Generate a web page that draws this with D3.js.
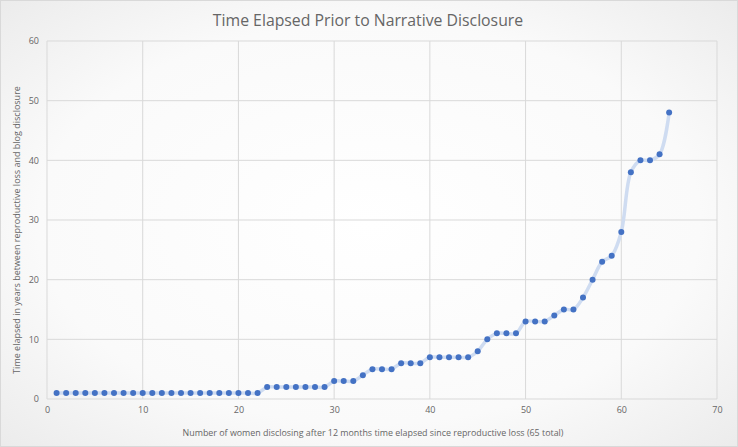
<!DOCTYPE html>
<html>
<head>
<meta charset="utf-8">
<script src="https://cdn.jsdelivr.net/npm/d3@7"></script>
<style>
  body { margin: 0; background: #fff; }
  svg text { font-family: "Open Sans", "Liberation Sans", sans-serif; }
</style>
</head>
<body>
<svg id="chart" width="738" height="447"></svg>
<script>
// women 1..65 and years elapsed before disclosure
const women = d3.range(1, 66);
const years = [
  1, 1, 1, 1, 1, 1, 1, 1, 1, 1, 1, 1, 1, 1, 1, 1, 1, 1, 1, 1, 1, 1,
  2, 2, 2, 2, 2, 2, 2,
  3, 3, 3,
  4, 5, 5, 5, 6, 6, 6,
  7, 7, 7, 7, 7,
  8, 10, 11, 11, 11, 13, 13, 13, 14, 15, 15,
  17, 20, 23, 24, 28, 38, 40, 40, 41, 48
];
const xTicks = [0, 10, 20, 30, 40, 50, 60, 70];
const yTicks = [0, 10, 20, 30, 40, 50, 60];

const titleText = 'Time Elapsed Prior to Narrative Disclosure';
const xLabel = 'Number of women disclosing after 12 months time elapsed since reproductive loss (65 total)';
const yLabel = 'Time elapsed in years between reproductive loss and blog disclosure';

const W = 738, H = 447;
const margin = { left: 47, right: 21, top: 41, bottom: 48 };
const textColor = '#666666';

const svg = d3.select('#chart');

// background gradient like the Excel chart area
const defs = svg.append('defs');
const grad = defs.append('radialGradient')
  .attr('id', 'bg')
  .attr('cx', '50%').attr('cy', '50%').attr('r', '75%');
grad.append('stop').attr('offset', '0%').attr('stop-color', '#ffffff');
grad.append('stop').attr('offset', '60%').attr('stop-color', '#fafafa');
grad.append('stop').attr('offset', '100%').attr('stop-color', '#e9e9e9');

svg.append('rect')
  .attr('x', 0.5).attr('y', 0.5)
  .attr('width', W - 1).attr('height', H - 1)
  .attr('fill', 'url(#bg)')
  .attr('stroke', '#d9d9d9');

const xScale = d3.scaleLinear()
  .domain([0, 70])
  .range([margin.left, W - margin.right]);

const yScale = d3.scaleLinear()
  .domain([0, 60])
  .range([H - margin.bottom, margin.top]);

// gridlines
svg.append('g')
  .selectAll('line')
  .data(yTicks)
  .enter()
  .append('line')
  .attr('x1', xScale(0)).attr('x2', xScale(70))
  .attr('y1', d => yScale(d)).attr('y2', d => yScale(d))
  .attr('stroke', '#d9d9d9')
  .attr('stroke-width', 1);

svg.append('g')
  .selectAll('line')
  .data(xTicks)
  .enter()
  .append('line')
  .attr('x1', d => xScale(d)).attr('x2', d => xScale(d))
  .attr('y1', yScale(0)).attr('y2', yScale(60))
  .attr('stroke', '#d9d9d9')
  .attr('stroke-width', 1);

// axes (labels only, Excel style)
const xAxis = d3.axisBottom(xScale).tickValues(xTicks).tickSize(0).tickPadding(8);
svg.append('g')
  .attr('transform', `translate(0, ${yScale(0)})`)
  .call(xAxis)
  .call(g => g.select('.domain').remove())
  .selectAll('text')
  .attr('fill', textColor)
  .attr('font-size', 9);

const yAxis = d3.axisLeft(yScale).tickValues(yTicks).tickSize(0).tickPadding(8);
svg.append('g')
  .attr('transform', `translate(${xScale(0)}, 0)`)
  .call(yAxis)
  .call(g => g.select('.domain').remove())
  .selectAll('text')
  .attr('fill', textColor)
  .attr('font-size', 9);

// smoothed line
const line = d3.line()
  .x((d, i) => xScale(women[i]))
  .y(d => yScale(d))
  .curve(d3.curveCatmullRom.alpha(0.5));

svg.append('path')
  .datum(years)
  .attr('d', line)
  .attr('fill', 'none')
  .attr('stroke', '#cfdcf1')
  .attr('stroke-width', 3.5)
  .attr('stroke-linejoin', 'round');

// markers
svg.append('g')
  .selectAll('circle')
  .data(years)
  .enter()
  .append('circle')
  .attr('cx', (d, i) => xScale(women[i]))
  .attr('cy', d => yScale(d))
  .attr('r', 3)
  .attr('fill', '#4472c4');

// title and axis titles
svg.append('text')
  .attr('x', 368)
  .attr('y', 26)
  .attr('text-anchor', 'middle')
  .attr('fill', textColor)
  .attr('font-size', 15.8)
  .text(titleText);

svg.append('text')
  .attr('x', 373)
  .attr('y', 436)
  .attr('text-anchor', 'middle')
  .attr('fill', textColor)
  .attr('font-size', 8.9)
  .text(xLabel);

svg.append('text')
  .attr('transform', 'translate(20, 230) rotate(-90)')
  .attr('text-anchor', 'middle')
  .attr('fill', textColor)
  .attr('font-size', 9)
  .text(yLabel);
</script>
</body>
</html>
